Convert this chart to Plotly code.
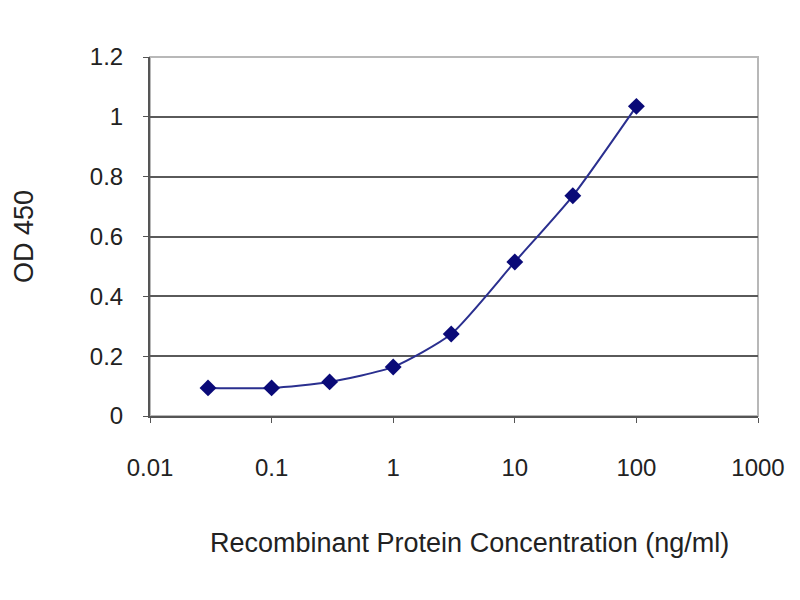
import plotly.graph_objects as go

# concentrations (ng/ml) and OD readings
conc = [0.03, 0.1, 0.3, 1, 3, 10, 30, 100]
od = [0.094, 0.094, 0.114, 0.164, 0.274, 0.515, 0.736, 1.035]

x_ticks = [0.01, 0.1, 1, 10, 100, 1000]
x_labels = ["0.01", "0.1", "1", "10", "100", "1000"]
y_ticks = [0, 0.2, 0.4, 0.6, 0.8, 1, 1.2]
y_labels = ["0", "0.2", "0.4", "0.6", "0.8", "1", "1.2"]

fig = go.Figure()
fig.add_trace(go.Scatter(
    x=conc, y=od, mode="lines+markers",
    line=dict(color="#2a2f8f", width=2, shape="spline", smoothing=0.6),
    marker=dict(symbol="diamond", size=13, color="#0a0a78"),
    showlegend=False,
))

# light frame on top/right like the original
fig.add_shape(type="rect", xref="paper", yref="paper", x0=0, y0=0, x1=1, y1=1,
              line=dict(color="#b8b8b8", width=2), layer="below")

# x title sits a bit right of the plot centre in the original
fig.add_annotation(text="Recombinant Protein Concentration (ng/ml)",
                   xref="paper", yref="paper", x=0.526, y=-0.354,
                   xanchor="center", yanchor="middle",
                   showarrow=False, font=dict(size=27))

fig.update_layout(
    width=800, height=600,
    margin=dict(l=142, r=50, t=49, b=192),
    paper_bgcolor="white", plot_bgcolor="white",
    font=dict(family="Liberation Sans, Arial", size=24, color="#222"),
)
fig.update_xaxes(
    type="log", range=[-2, 3], tickvals=x_ticks, ticktext=x_labels,
    showgrid=False, showline=True, linecolor="#555", linewidth=2,
    ticks="outside", ticklen=5, tickcolor="#555", ticklabelstandoff=24,
    zeroline=False,
)
fig.update_yaxes(
    range=[0, 1.2], tickvals=y_ticks, ticktext=y_labels,
    showgrid=True, gridcolor="#5a5a5a", gridwidth=2,
    showline=True, linecolor="#555", linewidth=2,
    ticks="outside", ticklen=5, tickcolor="#555", ticklabelstandoff=15,
    title=dict(text="OD 450", standoff=48, font=dict(size=27)),
    zeroline=False,
)

fig.write_html("out.html")
